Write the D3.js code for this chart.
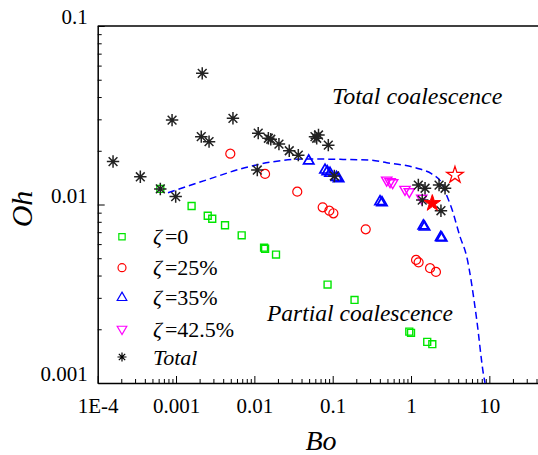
<!DOCTYPE html>
<html>
<head>
<meta charset="utf-8">
<script src="https://d3js.org/d3.v7.min.js"></script>
<style>
  body { margin: 0; background: #fff; }
  text { font-family: "Liberation Serif", "Times New Roman", serif; fill: #000; }
  .axis path, .axis line { stroke: #000; }
</style>
</head>
<body>
<svg width="538" height="455"></svg>
<script>
// Bo, Oh pairs
var zeta0 = [[6.3e-4,0.01222],[0.00158,0.00981],[0.00254,0.00865],[0.0029,0.00832],[0.00422,0.00765],
  [0.00689,0.00672],[0.0133,0.00573],[0.0137,0.00565],[0.0189,0.00524],[0.086,0.00356],[0.19,0.00292],
  [0.95,0.00194],[1.0,0.00191],[1.61,0.0017],[1.87,0.00165]];
var zeta25 = [[0.00493,0.01927],[0.0137,0.01483],[0.0353,0.0118],[0.0745,0.00964],[0.0906,0.00923],
  [0.102,0.00893],[0.264,0.00726],[1.16,0.00489],[1.25,0.00474],[1.75,0.0044],[2.08,0.00419]];
var zeta35 = [[0.0494,0.01754],[0.0798,0.0156],[0.0853,0.01527],[0.0925,0.01496],[0.112,0.01419],
  [0.119,0.01396],[0.402,0.01037],[0.426,0.01023],[1.435,0.00758],[1.49,0.00748],[2.39,0.00655],[2.47,0.00649]];
var zeta425 = [[0.489,0.0137],[0.54,0.01343],[0.583,0.01324],[0.838,0.01216],[0.951,0.0118],[1.37,0.01084]];
var total = [[1.57e-4,0.0174],[3.5e-4,0.0143],[6.3e-4,0.01222],[9.9e-4,0.01107],[8.9e-4,0.0297],
  [0.00216,0.0543],[0.0021,0.024],[0.00264,0.0225],[0.00533,0.0304],[0.0112,0.0251],[0.0151,0.0235],
  [0.0162,0.0232],[0.0206,0.0218],[0.0279,0.02],[0.0364,0.0189],[0.0594,0.024],[0.0625,0.0235],
  [0.0659,0.0245],[0.0879,0.0215],[0.0109,0.0156],[0.105,0.01445],[1.24,0.01285],[1.51,0.01233],
  [2.28,0.01285],[2.72,0.01233],[1.39,0.01059],[2.41,0.00923]];
var filledStar = [[1.87,0.01016]];
var openStar = [[3.64,0.01462]];
var boundary = [[7.9e-4,0.01164],[0.00242,0.0137],[0.00754,0.01607],[0.01746,0.01738],[0.0466,0.01799],
  [0.124,0.0179],[0.299,0.01775],[0.49,0.01714],[0.797,0.01663],[1.30,0.0158],[1.84,0.01483],
  [2.47,0.01315],[2.84,0.0113],[3.3,0.00953],[4.22,0.00661],[5.14,0.0051],[6.9,0.00226],[8.38,0.00113],[8.8,0.001]];

var xMajor = [1e-4, 1e-3, 1e-2, 1e-1, 1, 10];
var xTickLabels = ["1E-4", "0.001", "0.01", "0.1", "1", "10"];
var yMajor = [0.001, 0.01, 0.1];
var yTickLabels = ["0.001", "0.01", "0.1"];
var legendLabels = ["=0", "=25%", "=35%", "=42.5%"];

var svg = d3.select("svg");
var plotLeft = 97.7, plotTop = 26, plotBottom = 383, dec = 78.33;

var x = d3.scaleLog().domain([1e-4, 100]).range([plotLeft, plotLeft + 6 * dec]);
var y = d3.scaleLog().domain([0.001, 0.1]).range([plotBottom, plotTop]);

function minors(lo, hi) {
  var out = [];
  for (var e = lo; e < hi; e++)
    for (var k = 2; k <= 9; k++) out.push(k * Math.pow(10, e));
  return out;
}

// frame: top line (no ticks)
svg.append("line").attr("x1", plotLeft).attr("x2", 540).attr("y1", plotTop).attr("y2", plotTop)
  .attr("stroke", "#000").attr("stroke-width", 1.5);

var gx = svg.append("g").attr("class", "axis").attr("transform", "translate(0," + plotBottom + ")");
gx.call(d3.axisBottom(x).tickValues(minors(-4, 2)).tickSize(-4).tickFormat(""));
gx.select(".domain").remove();
var gxM = svg.append("g").attr("class", "axis").attr("transform", "translate(0," + plotBottom + ")")
  .call(d3.axisBottom(x).tickValues(xMajor).tickSize(-7).tickSizeOuter(0)
    .tickFormat(function(d, i) { return xTickLabels[i]; }));
gxM.select(".domain").attr("stroke-width", 1.5);
gxM.selectAll(".tick text").attr("font-size", 21).attr("y", 15).attr("dy", "0.71em");

var gy = svg.append("g").attr("class", "axis").attr("transform", "translate(" + plotLeft + ",0)");
gy.call(d3.axisLeft(y).tickValues(minors(-3, -1)).tickSize(-4).tickFormat(""));
gy.select(".domain").remove();
var gyM = svg.append("g").attr("class", "axis").attr("transform", "translate(" + plotLeft + ",0)")
  .call(d3.axisLeft(y).tickValues(yMajor).tickSize(-7).tickSizeOuter(0)
    .tickFormat(function(d, i) { return yTickLabels[i]; }));
gyM.select(".domain").attr("stroke-width", 1.5);
gyM.selectAll(".tick text").attr("font-size", 21).attr("x", -10).attr("dy", "-0.1em");

// boundary curve
var line = d3.line().x(d => x(d[0])).y(d => y(d[1])).curve(d3.curveMonotoneX);
svg.append("path").datum(boundary).attr("d", line).attr("fill", "none")
  .attr("stroke", "#0000ff").attr("stroke-width", 1.5).attr("stroke-dasharray", "7,4");

var sq = d3.symbol().type(d3.symbolSquare).size(48)();
var ci = d3.symbol().type(d3.symbolCircle).size(64)();
var tri = d3.symbol().type(d3.symbolTriangle).size(46)();
var star = d3.symbol().type(d3.symbolStar).size(85)();
function asterisk(r) {
  var a = r * Math.SQRT1_2;
  return "M" + (-r) + ",0L" + r + ",0M0," + (-r) + "L0," + r +
    "M" + (-a) + "," + (-a) + "L" + a + "," + a + "M" + (-a) + "," + a + "L" + a + "," + (-a);
}

var series = [
  { data: zeta0, path: sq, stroke: "#00e600", fill: "none", w: 1.4, rot: 0 },
  { data: zeta25, path: ci, stroke: "#ff0000", fill: "none", w: 1.2, rot: 0 },
  { data: zeta35, path: tri, stroke: "#0000ff", fill: "none", w: 1.7, rot: 0 },
  { data: zeta425, path: tri, stroke: "#ff00ff", fill: "none", w: 1.4, rot: 180 },
  { data: total, path: asterisk(6.2), stroke: "#222", fill: "none", w: 1.5, rot: 0 },
  { data: filledStar, path: star, stroke: "#ff0000", fill: "#ff0000", w: 1, rot: 0 },
  { data: openStar, path: star, stroke: "#ff0000", fill: "none", w: 1.3, rot: 0 }
];

series.forEach(function(s) {
  svg.append("g").selectAll("path").data(s.data).enter().append("path")
    .attr("d", s.path)
    .attr("transform", d => "translate(" + x(d[0]) + "," + y(d[1]) + ") rotate(" + s.rot + ")")
    .attr("fill", s.fill).attr("stroke", s.stroke).attr("stroke-width", s.w);
});

// legend
var legendY = [236.7, 267.7, 297.7, 329, 357];
var legendMarks = [
  { path: d3.symbol().type(d3.symbolSquare).size(40)(), stroke: "#00e600", rot: 0 },
  { path: d3.symbol().type(d3.symbolCircle).size(50)(), stroke: "#ff0000", rot: 0 },
  { path: d3.symbol().type(d3.symbolTriangle).size(40)(), stroke: "#0000ff", rot: 0 },
  { path: d3.symbol().type(d3.symbolTriangle).size(40)(), stroke: "#ff00ff", rot: 180 },
  { path: asterisk(4.5), stroke: "#000", rot: 0 }
];
legendMarks.forEach(function(m, i) {
  svg.append("path").attr("d", m.path)
    .attr("transform", "translate(122," + legendY[i] + ") rotate(" + m.rot + ")")
    .attr("fill", "none").attr("stroke", m.stroke).attr("stroke-width", 1.2);
  var t = svg.append("text").attr("x", 153).attr("y", legendY[i] + 7.5).attr("font-size", 22);
  if (i < 4) {
    t.append("tspan").attr("font-style", "italic").text("ζ");
    t.append("tspan").attr("dx", 3).text(legendLabels[i]);
  } else {
    t.attr("font-style", "italic").text("Total");
  }
});

// annotations and axis titles
svg.append("text").attr("x", 332).attr("y", 104).attr("font-size", 24).attr("font-style", "italic")
  .text("Total coalescence");
svg.append("text").attr("x", 267).attr("y", 321).attr("font-size", 23.5).attr("font-style", "italic")
  .text("Partial coalescence");
svg.append("text").attr("x", 321).attr("y", 450).attr("text-anchor", "middle")
  .attr("font-size", 28).attr("font-style", "italic").text("Bo");
svg.append("text").attr("transform", "translate(32,209) rotate(-90)").attr("text-anchor", "middle")
  .attr("font-size", 30).attr("font-style", "italic").text("Oh");
</script>
</body>
</html>
